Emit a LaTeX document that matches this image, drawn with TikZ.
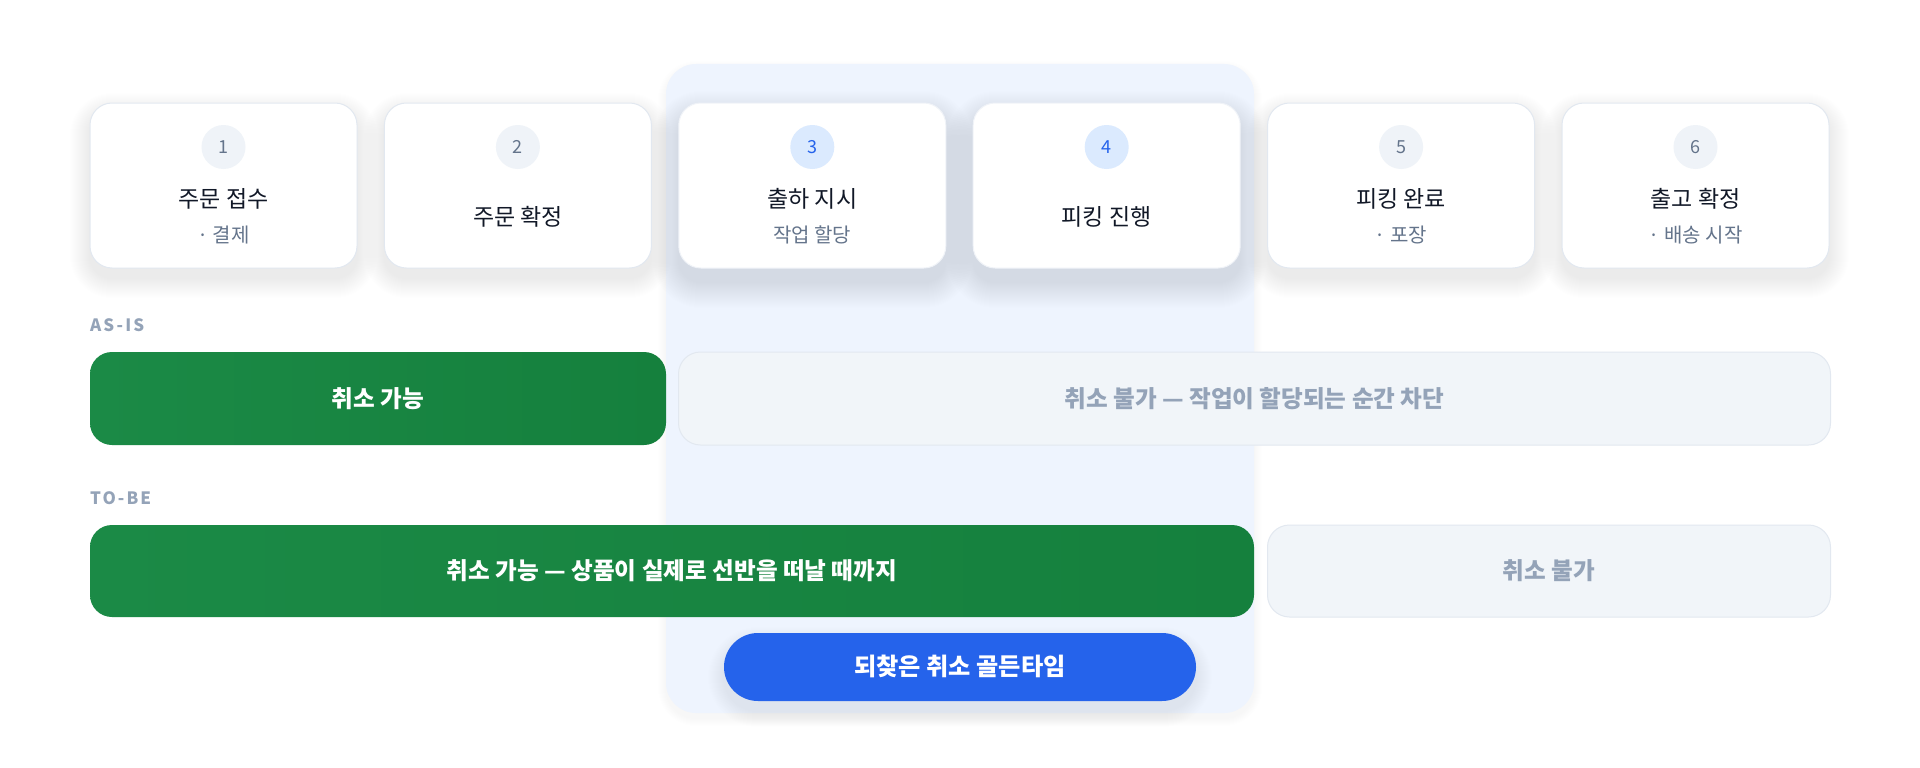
\documentclass[tikz,border=0pt]{standalone}
\usepackage{fontspec}
\setmainfont{Noto Sans CJK KR}
\definecolor{bandc}{HTML}{EEF4FE}
\definecolor{cardline}{HTML}{E2E8F0}
\definecolor{circg}{HTML}{EFF3F8}
\definecolor{circb}{HTML}{DBEAFE}
\definecolor{numg}{HTML}{64748B}
\definecolor{numb}{HTML}{2563EB}
\definecolor{titlec}{HTML}{111827}
\definecolor{subc}{HTML}{64748B}
\definecolor{lblc}{HTML}{94A3B8}
\definecolor{greenl}{HTML}{1B8A46}
\definecolor{greenr}{HTML}{15803D}
\definecolor{grayfill}{HTML}{F1F5F9}
\definecolor{graytext}{HTML}{94A3B8}
\definecolor{bluepill}{HTML}{2563EB}
\definecolor{shgray}{HTML}{334155}
\definecolor{shblue}{HTML}{4A5F8F}
% x1 y1 x2 y2 radius layers opacity color dy
\newcommand{\softshadow}[9]{%
  \foreach \k in {1,...,#6}{%
    \pgfmathsetmacro{\rr}{#5+\k}%
    \fill[#8, opacity=#7, rounded corners=\rr pt] (#1-\k, #2-\k+#9) rectangle (#3+\k, #4+\k+#9);
  }}
\tikzset{
  cardbox/.style={draw=cardline, line width=1pt, fill=white, rounded corners=22pt},
  cardboxhi/.style={draw=cardline!50!white, line width=1pt, fill=white, rounded corners=22pt},
  numcirc/.style={circle, minimum size=44pt, inner sep=0pt},
  numtxt/.style={anchor=base, font=\fontsize{18}{18}\selectfont, inner sep=0pt},
  titletxt/.style={anchor=base, font=\fontsize{23}{23}\selectfont, text=titlec, inner sep=0pt},
  subtxt/.style={anchor=base, font=\fontsize{20}{20}\selectfont, text=subc, inner sep=0pt},
  rowlbl/.style={anchor=base west, font=\fontsize{17}{17}\selectfont\bfseries\addfontfeature{LetterSpace=12}, text=lblc, inner sep=0pt},
  greenbar/.style={rounded corners=22pt, left color=greenl, right color=greenr, draw=none},
  graybar/.style={rounded corners=22pt, fill=grayfill, draw=cardline, line width=1pt},
  bartxtw/.style={anchor=base, font=\fontsize{23.6}{23.6}\selectfont\bfseries, text=white, inner sep=0pt},
  bartxtg/.style={anchor=base, font=\fontsize{23.6}{23.6}\selectfont\bfseries, text=graytext, inner sep=0pt},
}
\begin{document}
\begin{tikzpicture}[x=1pt, y=-1pt]
\useasboundingbox (0,0) rectangle (1920,768);
\fill[white] (0,0) rectangle (1920,768);
% highlight band
\softshadow{666}{64}{1254}{713}{30}{8}{0.003}{shgray}{5}
\path[fill=bandc, rounded corners=30pt] (666,64) rectangle (1254,713);
\coordinate (band) at (960,388);

% cards
\foreach \i in {0,1,4,5}{
  \pgfmathsetmacro{\L}{90+\i*294.4}
  \pgfmathsetmacro{\R}{\L+267}
  \softshadow{\L}{103}{\R}{268}{22}{20}{0.0025}{shgray}{10}
  \path[cardbox] (\L,103) rectangle (\R,268);
}
\foreach \i in {2,3}{
  \pgfmathsetmacro{\L}{90+\i*294.4}
  \pgfmathsetmacro{\R}{\L+267}
  \softshadow{\L}{103}{\R}{268}{22}{26}{0.0035}{shblue}{14}
  \path[cardboxhi] (\L,103) rectangle (\R,268);
}
% circles
\foreach \i/\c/\t/\n in {0/circg/numg/1,1/circg/numg/2,2/circb/numb/3,3/circb/numb/4,4/circg/numg/5,5/circg/numg/6}{
  \pgfmathsetmacro{\X}{90+\i*294.4+133.5}
  \node[numcirc, fill=\c] (c\n) at (\X,147) {};
  \node[numtxt, text=\t] (n\n) at (\X,153.6) {\n};
}
% titles
\node[titletxt] (t1) at (223.5,207.5) {주문 접수};
\node[subtxt]   (s1) at (223.5,242.3) {· 결제};
\node[titletxt] (t2) at (517.9,225.5) {주문 확정};
\node[titletxt] (t3) at (812.3,207.5) {출하 지시};
\node[subtxt]   (s3) at (812.3,242.3) {작업 할당};
\node[titletxt] (t4) at (1106.7,225.5) {피킹 진행};
\node[titletxt] (t5) at (1401.1,207.5) {피킹 완료};
\node[subtxt]   (s5) at (1401.1,242.3) {· 포장};
\node[titletxt] (t6) at (1695.5,207.5) {출고 확정};
\node[subtxt]   (s6) at (1695.5,242.3) {· 배송 시작};

% row labels
\node[rowlbl] (asis) at (90,331) {AS-IS};
\node[rowlbl] (tobe) at (90,504) {TO-BE};

% AS-IS bars
\path[greenbar] (90,352) rectangle (666,445);
\node[bartxtw] (a1) at (378,407) {취소 가능};
\path[graybar] (678.5,352) rectangle (1830.5,445);
\node[bartxtg] (a2) at (1254.5,407) {취소 불가 — 작업이 할당되는 순간 차단};

% TO-BE bars
\path[greenbar] (90,525) rectangle (1254,617);
\node[bartxtw] (b1) at (672,579.5) {취소 가능 — 상품이 실제로 선반을 떠날 때까지};
\path[graybar] (1267.5,525) rectangle (1830.5,617);
\node[bartxtg] (b2) at (1549,579.5) {취소 불가};

% blue pill
\softshadow{724}{633}{1196}{701}{34}{16}{0.0045}{shblue}{10}
\path[fill=bluepill, rounded corners=34pt] (724,633) rectangle (1196,701);
\node[anchor=base, font=\fontsize{24.2}{24.2}\selectfont\bfseries, text=white, inner sep=0pt] (pill) at (960,675.8) {되찾은 취소 골든타임};
\end{tikzpicture}
\end{document}
